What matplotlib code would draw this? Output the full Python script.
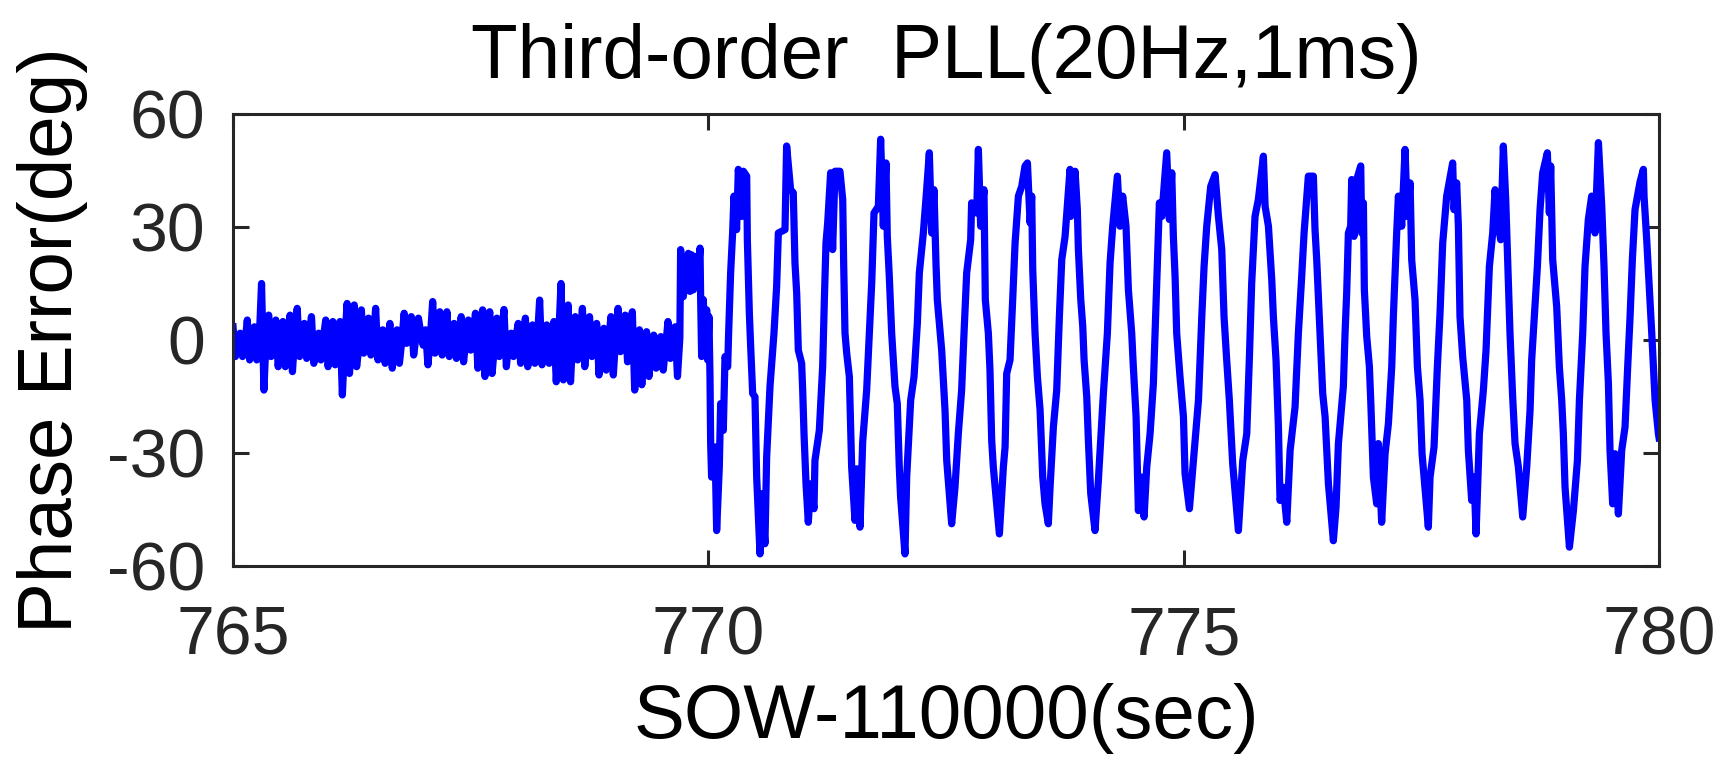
import numpy as np
import matplotlib
matplotlib.use("Agg")
import matplotlib.pyplot as plt

plt.rcParams['font.family'] = ['Liberation Sans', 'DejaVu Sans']
plt.rcParams['axes.unicode_minus'] = False

# phase error while tracking is quiet (765 s .. 769.70 s)
noise_start, noise_end = 765.0, 769.70
noise_deg = [
    3.5, -4.4, 0.6, 1.8, -4.4, -1.1, 5.3, -5.3, 1.4, 3.5, -5.3, -0.4,
    15.0, -13.3, 2.0, 6.6, -4.4, -1.5, 5.3, -7.1, 0.8, 4.9, -7.1, -0.9,
    6.6, -8.4, 1.7, 8.4, -4.4, -0.2, 4.4, -4.9, 1.0, 6.2, -6.2, -1.3,
    1.8, -5.3, 0.5, 5.3, -7.1, -0.7, 4.9, -6.6, 1.9, 4.9, -14.6, -0.5,
    9.7, -8.9, 1.2, 9.3, -7.1, -1.6, 8.0, -3.5, 0.3, 5.8, -4.0, -0.8,
    8.4, -5.3, 1.6, 2.7, -6.2, -1.0, 4.4, -7.5, 0.7, 2.7, -6.2, -0.3,
    7.1, -0.9, 2.4, 6.2, -4.0, 0.9, 5.8, 1.8, -1.4, 2.7, -6.6, 0.2,
    10.2, -3.5, 1.8, 7.5, -4.0, -0.6, 7.5, -4.4, 1.3, 4.4, -4.9, -0.9,
    6.2, -5.8, 0.4, 5.3, -2.7, 1.1, 7.1, -7.5, -1.2, 8.0, -9.7, 0.8,
    7.5, -8.9, -1.7, 5.8, -4.4, 1.5, 8.1, -7.1, -0.4, 1.8, -4.4, 0.6,
    4.4, -6.2, -1.1, 5.8, -7.1, 1.0, 4.0, -6.2, -0.5, 10.6, -6.6, 1.7,
    4.0, -6.2, -0.8, 4.9, -11.1, 0.5, 15.0, -10.6, -1.9, 9.3, -11.1, 1.4,
    6.2, -5.3, -0.6, 8.4, -7.1, 0.9, 6.2, -4.4, -1.2, 4.4, -9.3, 1.3,
    3.1, -8.0, -0.7, 6.2, -9.3, 0.8, 8.4, -3.1, -0.9, 6.6, -5.8, 1.6,
    7.5, -13.3, -1.8, 2.7, -11.9, 0.4, 2.2, -9.7, -1.5, 1.3, -7.5, -0.3,
    0.9, -8.0, -1.9, 4.9, -4.9, 0.2, 3.5, -9.7, 0.6,
]

# after the step: ~2 Hz oscillation, (time s, deg)
osc_t = [
    769.708, 769.736, 769.789, 769.807, 769.824, 769.842, 769.870, 769.884,
    769.912, 769.919, 769.929, 769.947, 769.964, 769.982, 769.992, 770.006,
    770.017, 770.024, 770.034, 770.070, 770.087, 770.115, 770.129, 770.157,
    770.175, 770.203, 770.213, 770.234, 770.255, 770.269, 770.297, 770.315,
    770.350, 770.368, 770.403, 770.410, 770.420, 770.431, 770.445, 770.466,
    770.490, 770.508, 770.543, 770.560, 770.595, 770.613, 770.648, 770.690,
    770.718, 770.736, 770.806, 770.823, 770.865, 770.893, 770.911, 770.929,
    770.946, 770.981, 770.992, 771.006, 771.027, 771.051, 771.076, 771.111,
    771.121, 771.167, 771.202, 771.220, 771.237, 771.255, 771.286, 771.307,
    771.332, 771.384, 771.413, 771.423, 771.437, 771.455, 771.483, 771.507,
    771.542, 771.560, 771.595, 771.623, 771.665, 771.693, 771.718, 771.742,
    771.788, 771.812, 771.840, 771.868, 771.882, 771.903, 771.928, 771.963,
    771.987, 772.008, 772.022, 772.068, 772.086, 772.128, 772.163, 772.198,
    772.219, 772.261, 772.296, 772.324, 772.349, 772.373, 772.394, 772.408,
    772.454, 772.489, 772.507, 772.559, 772.594, 772.629, 772.664, 772.689,
    772.717, 772.759, 772.769, 772.822, 772.840, 772.864, 772.899, 772.913,
    772.945, 772.962, 772.980, 772.997, 773.061,
    773.103, 773.121, 773.138, 773.173, 773.201, 773.226, 773.261, 773.296,
    773.331, 773.356, 773.384, 773.401, 773.412, 773.436, 773.461, 773.489,
    773.517, 773.541, 773.576, 773.594, 773.629, 773.664, 773.692, 773.717,
    773.752, 773.804, 773.811, 773.857, 773.881, 773.892, 773.917, 773.938,
    773.952, 773.980, 773.997, 774.022, 774.067, 774.102, 774.120, 774.155,
    774.197, 774.225, 774.253, 774.302, 774.330, 774.358, 774.393, 774.418,
    774.453, 774.470, 774.499, 774.523, 774.558, 774.583, 774.611, 774.646,
    774.681, 774.699, 774.716, 774.744, 774.769, 774.821, 774.849, 774.874,
    774.891, 774.909, 774.926, 774.961, 774.997, 775.014, 775.060, 775.102,
    775.155, 775.190, 775.214, 775.242, 775.284, 775.330, 775.365, 775.400,
    775.424, 775.452, 775.480, 775.515, 775.575, 775.621, 775.663, 775.691,
    775.715, 775.750, 775.785, 775.838, 775.856, 775.891, 775.926, 775.943,
    775.971, 775.996, 776.013, 776.048, 776.084, 776.119, 776.171, 776.206,
    776.241, 776.266, 776.311, 776.364, 776.381, 776.399, 776.434, 776.462,
    776.487, 776.522, 776.574,
    776.602, 776.627, 776.679, 776.697, 776.714, 776.732, 776.756, 776.767,
    776.791, 776.820, 776.862, 776.872, 776.890, 776.900, 776.925, 776.953,
    776.967, 776.995, 777.030, 777.047, 777.082, 777.118, 777.153, 777.188,
    777.205, 777.223, 777.240, 777.258, 777.293, 777.328, 777.352, 777.381,
    777.398, 777.433, 777.458, 777.486, 777.507, 777.573, 777.591, 777.633,
    777.668, 777.696, 777.724, 777.766, 777.829, 777.843, 777.871, 777.889,
    777.906, 777.934, 777.977, 777.994, 778.029, 778.054, 778.075, 778.110,
    778.152, 778.180, 778.215, 778.250, 778.275, 778.299, 778.334, 778.362,
    778.387, 778.415, 778.432, 778.460, 778.485, 778.520, 778.566, 778.608,
    778.643, 778.660, 778.695, 778.720, 778.748, 778.776, 778.825, 778.846,
    778.860, 778.881, 778.923, 778.951, 778.976, 778.993, 779.011, 779.057,
    779.099, 779.141, 779.162, 779.197, 779.221, 779.256, 779.291, 779.326,
    779.362, 779.397, 779.421, 779.442, 779.467, 779.484, 779.512, 779.537,
    779.572, 779.607, 779.642, 779.670, 779.695, 779.719, 779.747, 779.800,
    779.835, 779.842, 779.870, 779.898, 779.923, 779.958, 779.993, 780.000,
]
osc_deg = [
    24.0, 11.5, 23.0, 12.9, 22.6, 13.3, 22.2, 14.2,
    24.4, 10.7, -4.4, 10.7, -3.5, 8.0, -5.3, 6.2,
    -9.8, -27.5, -36.4, -28.4, -50.6, -33.7, -16.9, -24.0,
    -4.4, -7.1, 1.8, 17.8, 28.4, 38.2, 29.3, 45.3,
    32.8, 44.8, 43.5, 26.6, 16.9, 7.1, -1.8, -14.2,
    -15.1, -36.4, -56.8, -40.8, -54.1, -31.1, -12.4, 1.8,
    14.2, 28.4, 29.3, 51.5, 39.9, 39.1, 20.4, 12.4,
    -2.7, -6.2, -13.3, -24.9, -38.2, -48.4, -38.2, -44.8,
    -32.0, -24.0, -7.1, 10.7, 25.7, 31.1, 44.4, 24.0,
    44.8, 44.8, 37.3, 20.4, 1.8, -3.5, -9.8, -33.7,
    -47.9, -34.2, -49.7, -27.1, -13.3, 1.8, 15.1, 33.7,
    35.5, 53.3, 30.2, 47.0, 27.5, 16.9, 1.8, -12.4,
    -16.9, -33.7, -41.7, -56.8, -36.4, -16.0, -9.8, 4.4,
    17.8, 28.4, 39.9, 49.7, 28.4, 39.9, 20.4, 10.7,
    -2.7, -18.6, -32.0, -48.8, -39.1, -24.9, -13.3, 1.8,
    17.8, 26.6, 36.4, 33.7, 50.6, 30.2, 39.9, 10.7,
    1.8, -8.0, -26.6, -33.7, -51.5,
    -33.7, -28.4, -8.9, -5.3, 10.7, 25.7, 38.2, 40.8,
    46.2, 47.0, 31.1, 38.2, 18.6, 1.8, -9.8, -18.6,
    -36.4, -43.5, -48.8, -39.1, -23.1, -13.3, 6.2, 21.3,
    27.5, 45.3, 32.8, 44.8, 34.6, 24.0, 10.7, 3.6,
    -5.3, -15.1, -26.6, -40.8, -50.6, -37.3, -29.3, -14.2,
    1.8, 20.4, 30.2, 43.5, 30.2, 38.2, 30.2, 13.3,
    1.8, -7.1, -20.4, -45.3, -36.4, -47.0, -33.7, -24.9,
    -11.5, 1.8, 15.1, 36.4, 32.8, 49.7, 32.0, 44.4,
    27.5, 16.9, 1.8, -9.8, -20.4, -35.5, -44.8, -32.0,
    -16.0, 6.2, 19.5, 30.2, 40.8, 43.9, 32.8, 24.0,
    6.2, -5.3, -16.0, -32.8, -50.6, -32.0, -24.9, -4.4,
    15.1, 32.8, 37.3, 48.8, 35.5, 30.2, 16.0, 6.2,
    -5.3, -23.1, -42.6, -39.1, -48.4, -29.3, -17.8, 1.8,
    16.9, 28.4, 43.5, 43.5, 29.3, 21.3, 1.8, -14.2,
    -20.4, -38.2, -53.3,
    -44.4, -27.5, -12.4, 1.8, 12.4, 28.4, 30.2, 42.6,
    27.5, 42.6, 46.2, 28.4, 36.4, 13.3, 0.9, -7.1,
    -16.0, -36.4, -43.5, -27.5, -48.4, -30.2, -22.2, -7.1,
    6.2, 17.8, 28.4, 38.2, 30.2, 50.6, 32.8, 41.7,
    21.3, 10.7, -7.1, -16.0, -30.2, -49.7, -36.4, -28.4,
    -7.1, 7.1, 25.7, 38.2, 47.0, 34.6, 41.7, 30.2,
    6.2, -4.4, -16.0, -29.3, -42.6, -36.4, -51.5, -24.9,
    -13.3, -2.7, 19.5, 28.4, 39.9, 32.0, 26.6, 51.5,
    37.3, 15.1, 1.8, -15.1, -27.5, -33.7, -47.0, -33.7,
    -18.6, -5.3, 8.9, 19.5, 34.6, 44.4, 49.7, 33.7,
    46.2, 21.3, 8.9, -7.1, -16.0, -24.9, -39.1, -55.0,
    -45.3, -32.0, -16.0, 1.8, 19.5, 32.0, 38.2, 28.4,
    52.4, 35.5, 19.5, 1.8, -11.5, -29.3, -43.5, -30.2,
    -46.2, -29.3, -23.1, -7.1, 6.2, 21.3, 34.6, 42.0,
    45.3, 38.2, 26.6, 13.3, 1.8, -16.0, -24.9, -26.0,
]

x_ticks = [765, 770, 775, 780]
y_ticks = [-60, -30, 0, 30, 60]

noise_t = np.linspace(noise_start, noise_end, len(noise_deg))
t = np.concatenate([noise_t, osc_t])
phase = np.concatenate([noise_deg, osc_deg])

fig = plt.figure(figsize=(17.3, 7.77), dpi=100)
ax = fig.add_axes([0.1347, 0.2716, 0.8243, 0.5817])

ax.plot(t, phase, color='#0000ff', linewidth=5.2)

ax.set_xlim(765, 780)
ax.set_ylim(-60, 60)
ax.set_xticks(x_ticks)
ax.set_yticks(y_ticks)

axis_grey = '#262626'
for side in ax.spines.values():
    side.set_linewidth(2.2)
    side.set_color(axis_grey)
ax.tick_params(direction='in', length=11.5, width=2.2, top=True, right=True,
               labelsize=49, colors=axis_grey)
ax.tick_params(axis='x', pad=28)
ax.tick_params(axis='y', pad=20)

ax.set_title('Third-order  PLL(20Hz,1ms)', fontsize=55, pad=26, color='black')
ax.set_xlabel('SOW-110000(sec)', fontsize=55, labelpad=10, color='black')
ax.set_ylabel('Phase Error(deg)', fontsize=55, color='black')
ax.yaxis.set_label_coords(-0.102, 0.5)

fig.savefig('out.png', dpi=100)
